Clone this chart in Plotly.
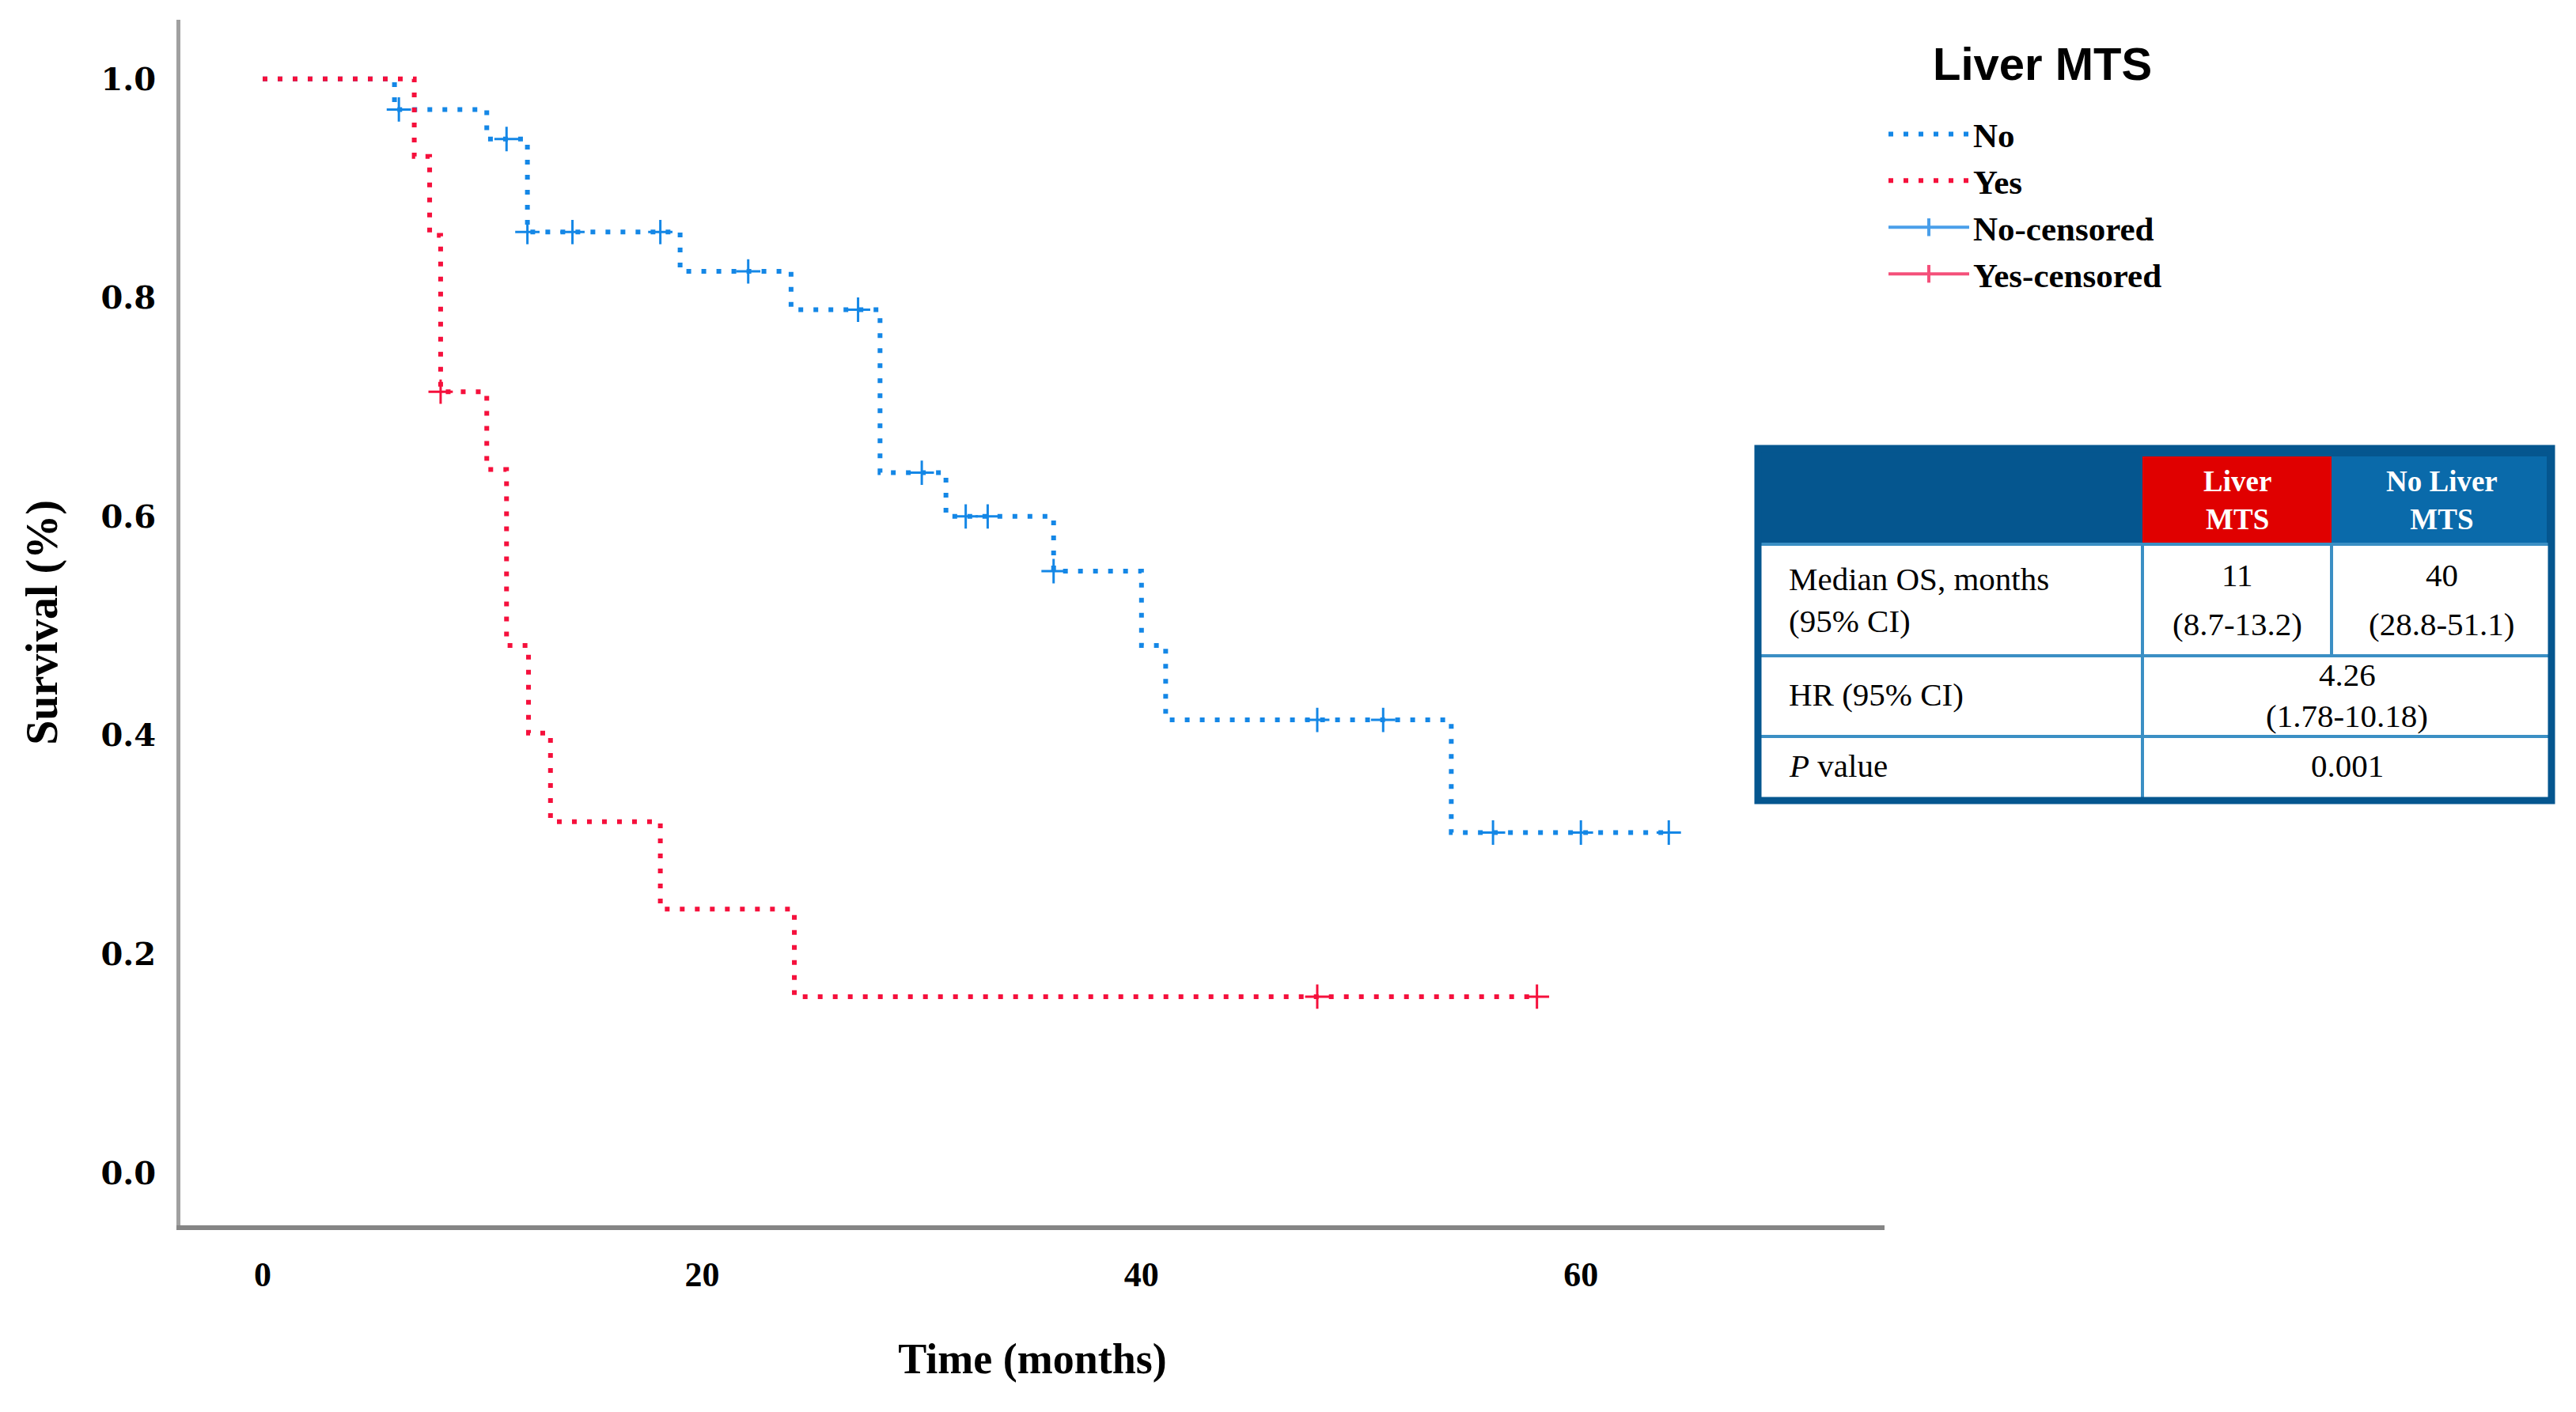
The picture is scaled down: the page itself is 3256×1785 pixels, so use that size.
import plotly.graph_objects as go

# ---------------- data ----------------
# Kaplan-Meier step curves: time (months) and survival proportion
no_time = [0, 6.0, 10.2, 12.05, 19.0, 24.05, 28.1, 31.1, 36.0, 40.0, 41.1, 54.1, 64.0]
no_surv = [1.0, 0.972, 0.945, 0.860, 0.824, 0.789, 0.640, 0.600, 0.550, 0.482, 0.414, 0.311, 0.311]
yes_time = [0, 6.9, 7.6, 8.1, 10.2, 11.1, 12.1, 13.1, 18.1, 24.2, 58.0]
yes_surv = [1.0, 0.929, 0.857, 0.714, 0.643, 0.482, 0.402, 0.321, 0.241, 0.161, 0.161]

# censored observations
no_cens_time = [6.2, 11.1, 12.05, 14.1, 18.1, 22.1, 27.1, 30.0, 32.0, 33.0, 36.0, 48.0, 51.0, 56.0, 60.0, 64.0]
no_cens_surv = [0.972, 0.945, 0.860, 0.860, 0.860, 0.824, 0.789, 0.640, 0.600, 0.600, 0.550, 0.414, 0.414, 0.311, 0.311, 0.311]
yes_cens_time = [8.1, 48.0, 58.0]
yes_cens_surv = [0.714, 0.161, 0.161]

series_names = ["No", "Yes", "No-censored", "Yes-censored"]
legend_title = "Liver MTS"

x_ticks = [0, 20, 40, 60]
y_ticks = [0.0, 0.2, 0.4, 0.6, 0.8, 1.0]

# summary table
table_header = ["", "Liver<br>MTS", "No Liver<br>MTS"]
table_rows = ["Median OS, months<br>(95% CI)", "HR (95% CI)", "<i>P</i> value"]
median_os_liver = ["11", "(8.7-13.2)"]
median_os_noliver = ["40", "(28.8-51.1)"]
hr_text = ["4.26", "(1.78-10.18)"]
p_text = "0.001"

# ---------------- style ----------------
BLUE = "#1487e6"
RED = "#f5103c"
SERIF = "Liberation Serif"
DASH = "6px,13px"

FW, FH = 3256, 1785
L, R, T, B = 228, 2382, 25, 1549
PW, PH = R - L, B - T


def px(xp):
    return (xp - L) / PW


def py(yp):
    return (B - yp) / PH


fig = go.Figure()

fig.add_trace(go.Scatter(x=no_time, y=no_surv, mode="lines", line_shape="hv",
                         line=dict(color=BLUE, width=6, dash=DASH), name=series_names[0]))
fig.add_trace(go.Scatter(x=yes_time, y=yes_surv, mode="lines", line_shape="hv",
                         line=dict(color=RED, width=6, dash=DASH), name=series_names[1]))
fig.add_trace(go.Scatter(x=no_cens_time, y=no_cens_surv, mode="markers", showlegend=False,
                         marker=dict(symbol="cross-thin", size=22, line=dict(color=BLUE, width=3)),
                         name=series_names[2]))
fig.add_trace(go.Scatter(x=yes_cens_time, y=yes_cens_surv, mode="markers", showlegend=False,
                         marker=dict(symbol="cross-thin", size=22, line=dict(color=RED, width=3)),
                         name=series_names[3]))
# legend entries for the censor marks (line with a vertical tick)
for nm, col in [(series_names[2], "#4a9fea"), (series_names[3], "#f4507a")]:
    fig.add_trace(go.Scatter(x=[None], y=[None], mode="lines+markers", name=nm,
                             line=dict(color=col, width=4),
                             marker=dict(symbol="line-ns", size=22, line=dict(color=col, width=4))))

# ---------------- table ----------------
shapes = []
DARK = "#05568f"
LINE = "#3b8fc4"
tx0, tx1, ty0, ty1 = 2222, 3225, 567, 1012
c1, c2 = 2708, 2947
h_bot, r2_bot, r3_bot = 688, 829, 931
shapes.append(dict(type="rect", xref="paper", yref="paper", x0=px(tx0), x1=px(tx1), y0=py(ty1), y1=py(ty0),
                   fillcolor="white", line=dict(width=0), layer="above"))
shapes.append(dict(type="rect", xref="paper", yref="paper", x0=px(tx0), x1=px(tx1), y0=py(h_bot), y1=py(ty0),
                   fillcolor=DARK, line=dict(width=0), layer="above"))
shapes.append(dict(type="rect", xref="paper", yref="paper", x0=px(c2), x1=px(tx1 - 6), y0=py(h_bot), y1=py(577),
                   fillcolor="#0a6aaa", line=dict(width=0), layer="above"))
shapes.append(dict(type="rect", xref="paper", yref="paper", x0=px(c1), x1=px(c2), y0=py(h_bot), y1=py(577),
                   fillcolor="#e00000", line=dict(width=0), layer="above"))
for yy in [h_bot, r2_bot, r3_bot]:
    shapes.append(dict(type="line", xref="paper", yref="paper", x0=px(tx0), x1=px(tx1), y0=py(yy), y1=py(yy),
                       line=dict(color=LINE, width=4), layer="above"))
shapes.append(dict(type="line", xref="paper", yref="paper", x0=px(c1), x1=px(c1), y0=py(ty1), y1=py(h_bot),
                   line=dict(color=LINE, width=4), layer="above"))
shapes.append(dict(type="line", xref="paper", yref="paper", x0=px(c2), x1=px(c2), y0=py(r2_bot), y1=py(h_bot),
                   line=dict(color=LINE, width=4), layer="above"))
shapes.append(dict(type="rect", xref="paper", yref="paper", x0=px(tx0), x1=px(tx1), y0=py(ty1), y1=py(ty0),
                   fillcolor="rgba(0,0,0,0)", line=dict(color=DARK, width=9), layer="above"))

annotations = []


def ann(text, xp, yp, xanchor="center", color="black", size=41, bold=False, family=SERIF):
    annotations.append(dict(text=("<b>%s</b>" % text) if bold else text, xref="paper", yref="paper",
                            x=px(xp), y=py(yp), xanchor=xanchor, yanchor="middle", showarrow=False,
                            align="center" if xanchor == "center" else "left",
                            font=dict(family=family, size=size, color=color)))


ann(table_header[1], (c1 + c2) / 2, 632, color="white", size=37, bold=True)
ann(table_header[2], (c2 + tx1) / 2, 632, color="white", size=37, bold=True)
ann(table_rows[0], 2259, 758, xanchor="left")
ann(table_rows[1], 2259, 878, xanchor="left")
ann(table_rows[2], 2259, 968, xanchor="left")
ann(median_os_liver[0], (c1 + c2) / 2, 727)
ann(median_os_liver[1], (c1 + c2) / 2, 789)
ann(median_os_noliver[0], (c2 + tx1) / 2, 727)
ann(median_os_noliver[1], (c2 + tx1) / 2, 789)
ann(hr_text[0], (c1 + tx1) / 2, 853)
ann(hr_text[1], (c1 + tx1) / 2, 905)
ann(p_text, (c1 + tx1) / 2, 968)

# legend title
ann(legend_title, 2581, 80, size=58, family="Liberation Sans", bold=True)

fig.update_layout(
    width=FW, height=FH, autosize=False,
    margin=dict(l=L, r=FW - R, t=T, b=FH - B, pad=0),
    paper_bgcolor="white", plot_bgcolor="white",
    showlegend=True,
    legend=dict(x=px(2382), y=py(135), xanchor="left", yanchor="top",
                font=dict(family=SERIF, size=43, color="black", weight="bold"),
                bgcolor="rgba(0,0,0,0)", itemwidth=102, tracegroupgap=0),
    xaxis=dict(range=[-3.745, 73.82], tickvals=x_ticks, ticktext=[str(v) for v in x_ticks],
               showgrid=False, zeroline=False, showline=True, linecolor="#858585", linewidth=6,
               ticks="", ticklabelstandoff=18,
               tickfont=dict(family=SERIF, size=44, color="black", weight="bold"),
               title=dict(text="<b>Time (months)</b>", standoff=65,
                          font=dict(family=SERIF, size=54, color="black"))),
    yaxis=dict(range=[-0.048, 1.054], tickvals=y_ticks, tickformat=".1f",
               showgrid=False, zeroline=False, showline=True, linecolor="#a0a0a0", linewidth=5,
               ticks="", ticklabelstandoff=18,
               tickfont=dict(family="DejaVu Serif", size=40, color="black", weight="bold"),
               title=dict(text="<b>Survival (%)</b>", standoff=38,
                          font=dict(family=SERIF, size=56, color="black"))),
    shapes=shapes,
    annotations=annotations,
)

fig.write_html("out.html", config={"displayModeBar": False},
               post_script="document.body.style.margin='0';document.body.style.overflow='hidden';")
